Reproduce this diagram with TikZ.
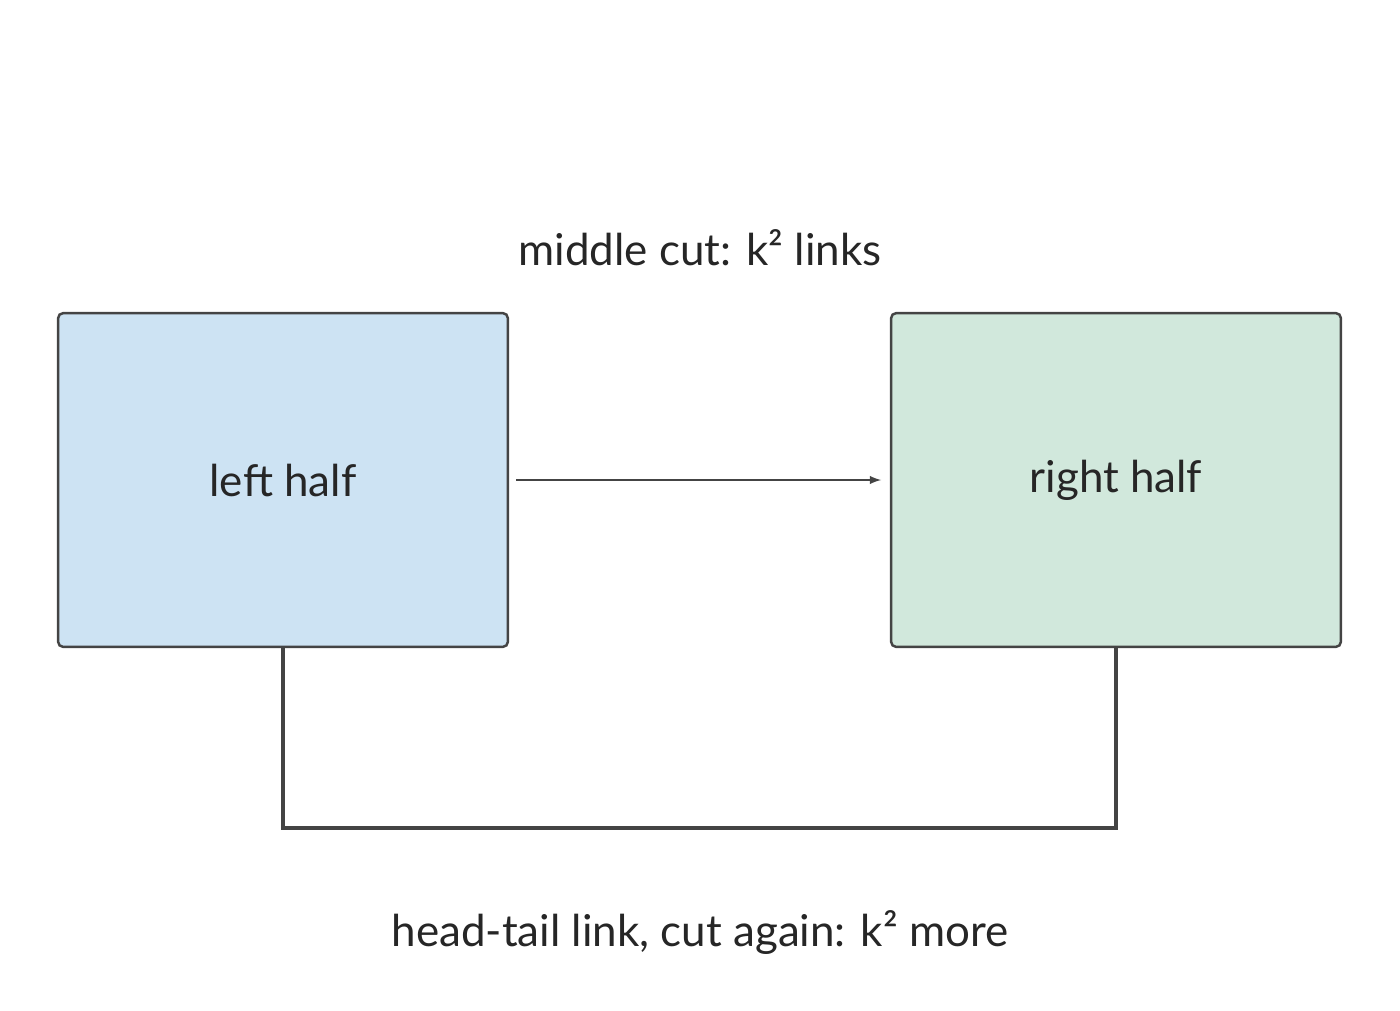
\documentclass[tikz,border=0pt]{standalone}
\usepackage{fontspec}
\setmainfont{Lato}
\usetikzlibrary{positioning}
\definecolor{edgegray}{HTML}{444444}
\definecolor{leftfill}{HTML}{CDE3F3}
\definecolor{rightfill}{HTML}{D1E8DC}
\begin{document}
\begin{tikzpicture}[x=0.02cm,y=-0.02cm]
    \tikzstyle{half} = [rectangle, draw=edgegray, line width=1.4pt, rounded corners=3pt,
        minimum width=9cm, minimum height=6.68cm, font=\fontsize{25}{30}\selectfont, text=black!85]
    \tikzstyle{caption} = [font=\fontsize{25}{30}\selectfont, text=black!85]

    \useasboundingbox (0,0) rectangle (1400,1011);

    % Halves
    \node[half, fill=leftfill] (lefthalf) at (283,480) {left half};
    \node[half, fill=rightfill] (righthalf) at (1116,480) {right half};

    % Captions
    \node[caption] (midcut) at (700,248) {middle cut: k² links};
    \node[caption] (headtail) at (700,933) {head-tail link, cut again: k² more};

    % Links
    \draw[edgegray, line width=1.2pt, -latex, shorten <=4pt, shorten >=5pt] (lefthalf) -- (righthalf);
    \draw[edgegray, line width=2.2pt] (lefthalf.south) -- ++(0,180) -| (righthalf.south);
\end{tikzpicture}
\end{document}
